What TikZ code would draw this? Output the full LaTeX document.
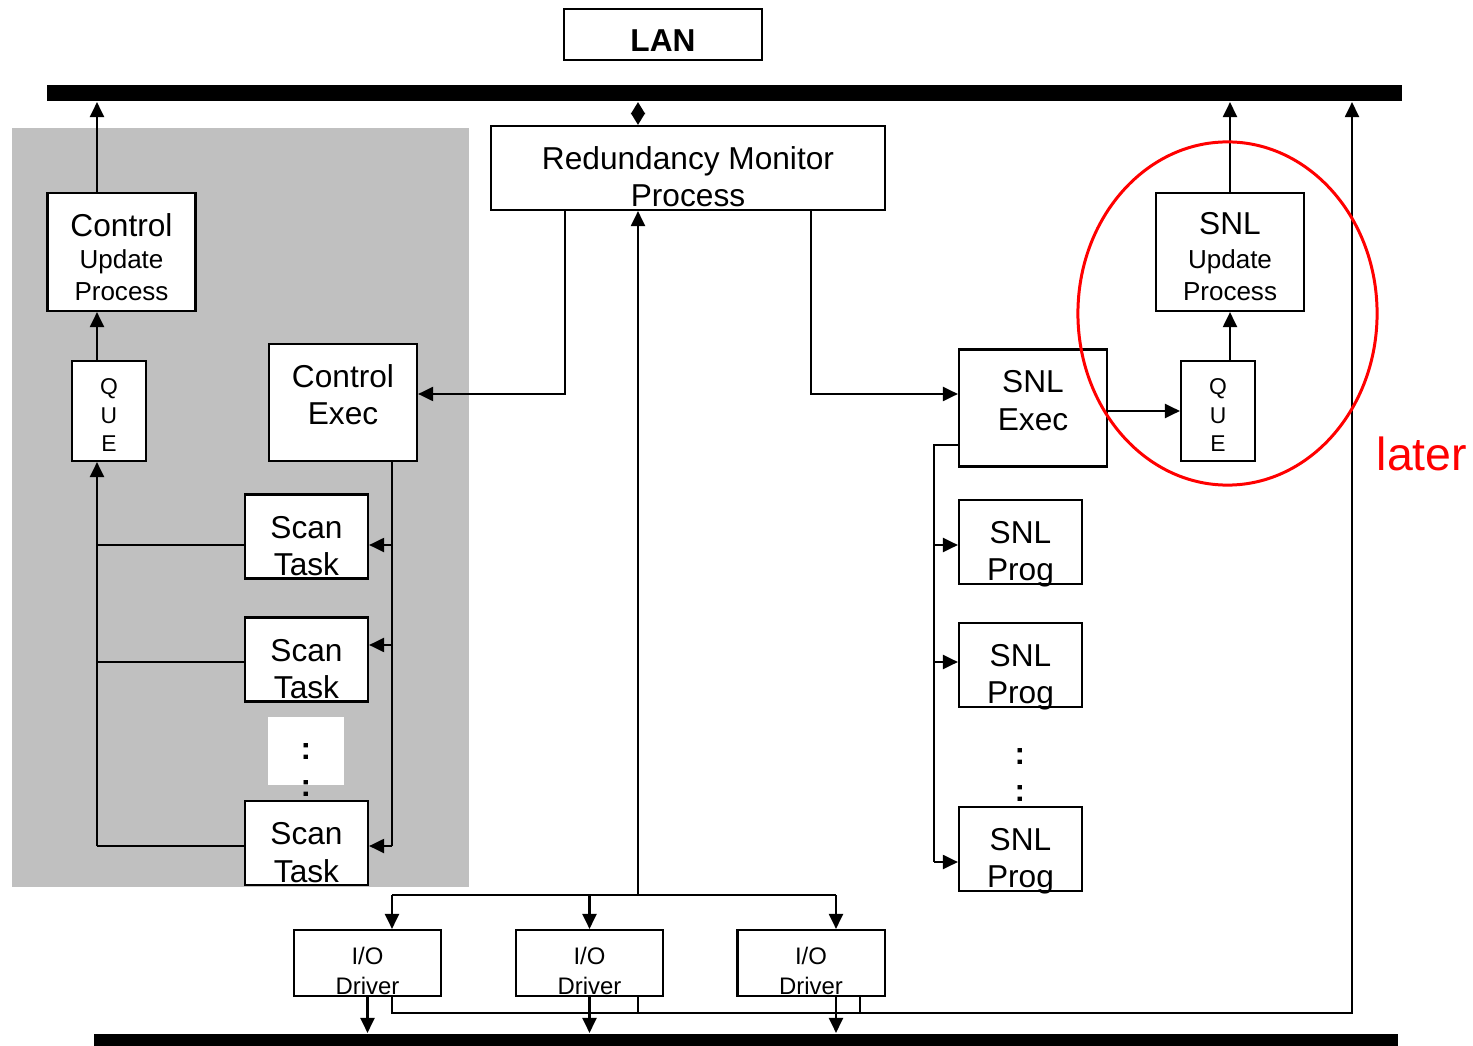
\documentclass[tikz,border=0pt]{standalone}
\usepackage{fontspec}
\setmainfont{Liberation Sans}
\usetikzlibrary{arrows.meta}
\definecolor{panelgray}{RGB}{192,192,192}
\newcommand{\bigfont}{\fontsize{9}{10.6}\selectfont}
\newcommand{\midfont}{\fontsize{7.4}{9.1}\selectfont}
\newcommand{\quefont}{\fontsize{6.5}{8.1}\selectfont}
\newcommand{\iofont}{\fontsize{6.8}{8.5}\selectfont}
\tikzset{
  box/.style={draw, fill=white, inner sep=0pt},
  procbox/.style={box, minimum width=1.48cm, minimum height=1.18cm},
  quebox/.style={box, minimum width=0.74cm, minimum height=1.0cm},
  execbox/.style={box, minimum width=1.48cm, minimum height=1.17cm},
  taskbox/.style={box, minimum width=1.23cm, minimum height=0.84cm},
  iobox/.style={box, minimum width=1.47cm, minimum height=0.66cm},
  bus/.style={fill=black, inner sep=0pt},
  txt/.style={align=center, inner sep=0pt, font=\bigfont},
  arr/.style={-{Triangle[length=0.15cm, width=0.14cm]}},
  arrboth/.style={{Triangle[length=0.12cm, width=0.14cm]}-{Triangle[length=0.12cm, width=0.14cm]}},
}
\begin{document}
\begin{tikzpicture}[x=0.01cm, y=-0.01cm, line width=0.6pt]
    \useasboundingbox (0,0) rectangle (1473,1046);

    % Control side background
    \fill[panelgray] (12,128) rectangle (469,887);
    \fill[white] (268,717) rectangle (344,785);

    % LAN bus and I/O bus
    \node[bus, minimum width=13.55cm, minimum height=0.16cm] (topbus) at (724.5,93) {};
    \node[bus, minimum width=13.04cm, minimum height=0.12cm] (botbus) at (746,1040) {};
    \node[box, minimum width=1.98cm, minimum height=0.51cm] (lan) at (663,34.5) {};
    \node[txt, font=\bigfont\bfseries] (lan-txt) at ([yshift=-0.06cm]lan.center) {LAN};

    % Boxes
    \node[box, minimum width=3.94cm, minimum height=0.84cm] (rmp) at (688,168) {};
    \node[procbox] (cup) at (121.5,252) {};
    \node[quebox] (que1) at (109,411) {};
    \node[execbox] (cex) at (343,402.5) {};
    \foreach \n/\y in {1/536.5, 2/659.5, 3/843}
        \node[taskbox] (st\n) at (306.5,\y) {};
    \foreach \n/\x in {1/367.5, 2/589.5, 3/811}
        \node[iobox] (io\n) at (\x,963) {};
    \node[execbox] (snlex) at (1033,408) {};
    \node[quebox] (que2) at (1218,411) {};
    \node[procbox] (sup) at (1230,252) {};
    \foreach \n/\y in {1/542, 2/665, 3/849}
        \node[taskbox] (sp\n) at (1020.5,\y) {};

    % Columns of the connectors
    \coordinate (lcol) at (97,0);
    \coordinate (rcol) at (392,0);
    \coordinate (rmpl) at (565,0);
    \coordinate (mid) at (638,0);
    \coordinate (rmpr) at (811,0);
    \coordinate (io3r) at (836,0);
    \coordinate (io3s) at (860,0);
    \coordinate (scol) at (934,0);
    \coordinate (retx) at (1352,0);
    \coordinate (iobar) at (0,895);
    \coordinate (ret) at (0,1013);

    % Control side
    \draw[arr] (cup.north -| lcol) -- (topbus.south -| lcol);
    \draw[arr] (que1.north -| lcol) -- (cup.south -| lcol);
    \draw[arr] ([yshift=-0.03cm]st3.west -| lcol) -- (que1.south -| lcol);
    \foreach \t/\dy in {st1/-0.085, st2/-0.025, st3/-0.03}
        \draw ([yshift=\dy cm]\t.west) coordinate (p) -- (p -| lcol);
    \draw (cex.south -| rcol) -- ([yshift=-0.03cm]st3.east -| rcol);
    \foreach \t/\dy in {st1/-0.085, st2/0.145, st3/-0.03}
        \draw[arr] ([yshift=\dy cm]\t.east -| rcol) -- ([yshift=\dy cm]\t.east);

    % Redundancy monitor
    \draw[arrboth] (rmp.north -| mid) -- (topbus.south -| mid);
    \draw[arr] (rmp.south -| rmpl) |- ([yshift=0.085cm]cex.east);
    \draw[arr] (rmp.south -| rmpr) |- ([yshift=0.14cm]snlex.west);
    \draw[arr] (iobar -| mid) -- (rmp.south -| mid);

    % I/O drivers
    \draw (iobar -| rcol) -- (iobar -| io3r);
    \draw[arr] (iobar -| rcol) -- (io1.north -| rcol);
    \draw[arr] (iobar -| io2) -- (io2.north);
    \draw[arr] (iobar -| io3r) -- (io3.north -| io3r);
    \draw[arr] (io1.south) -- (io1.south |- botbus.north);
    \draw[arr] (io2.south) -- (io2.south |- botbus.north);
    \draw[arr] (io3.south -| io3r) -- (botbus.north -| io3r);
    \draw[arr] (io1.south -| rcol) |- (ret -| retx) -- (topbus.south -| retx);
    \draw (io2.south -| mid) -- (ret -| mid);
    \draw (io3.south -| io3s) -- (ret -| io3s);

    % SNL side
    \draw[arr] (snlex.east |- que2.west) -- (que2.west);
    \draw[arr] (sup.south |- que2.north) -- (sup.south);
    \draw[arr] (sup.north) -- (sup.north |- topbus.south);
    \draw ([yshift=-0.37cm]snlex.west) -| ([yshift=-0.13cm]sp3.west -| scol);
    \foreach \t/\dy in {sp1/-0.03, sp2/0.03, sp3/-0.13}
        \draw[arr] ([yshift=\dy cm]\t.west -| scol) -- ([yshift=\dy cm]\t.west);

    % Texts
    \node[txt] (rmp-txt) at ([yshift=-0.09cm]rmp.center) {Redundancy Monitor\\Process};
    \node[txt] (cup-txt) at ([yshift=0.27cm]cup.center) {Control};
    \node[txt, font=\midfont] (cup-sub) at ([yshift=-0.235cm]cup.center) {Update\\Process};
    \node[txt, font=\quefont] (que1-txt) at ([yshift=-0.045cm]que1.center) {Q\\U\\E};
    \node[txt] (cex-txt) at ([yshift=0.075cm]cex.center) {Control\\Exec};
    \foreach \n in {1,2,3}
        \node[txt] (st\n-txt) at ([yshift=-0.095cm]st\n.center) {Scan\\Task};
    \node[txt, font=\bigfont\bfseries] (stdots) at (306,770) {:\\:};
    \foreach \n in {1,2,3}
        \node[txt, font=\iofont] (io\n-txt) at ([yshift=-0.075cm]io\n.center) {I/O\\Driver};
    \node[txt] (snlex-txt) at ([yshift=0.075cm]snlex.center) {SNL\\Exec};
    \node[txt, font=\quefont] (que2-txt) at ([yshift=-0.045cm]que2.center) {Q\\U\\E};
    \node[txt] (sup-txt) at ([yshift=0.28cm]sup.center) {SNL};
    \node[txt, font=\midfont] (sup-sub) at ([yshift=-0.235cm]sup.center) {Update\\Process};
    \foreach \n in {1,2,3}
        \node[txt] (sp\n-txt) at ([yshift=-0.12cm]sp\n.center) {SNL\\Prog};
    \node[txt, font=\bigfont\bfseries] (spdots) at (1020,775) {:\\:};

    % Later part
    \draw[red, line width=0.85pt] (1227.5,313.5) ellipse [x radius=1.495cm, y radius=1.715cm];
    \node[txt, font=\fontsize{13.2}{15}\selectfont, text=red] (later) at (1422,454) {later};
\end{tikzpicture}
\end{document}
